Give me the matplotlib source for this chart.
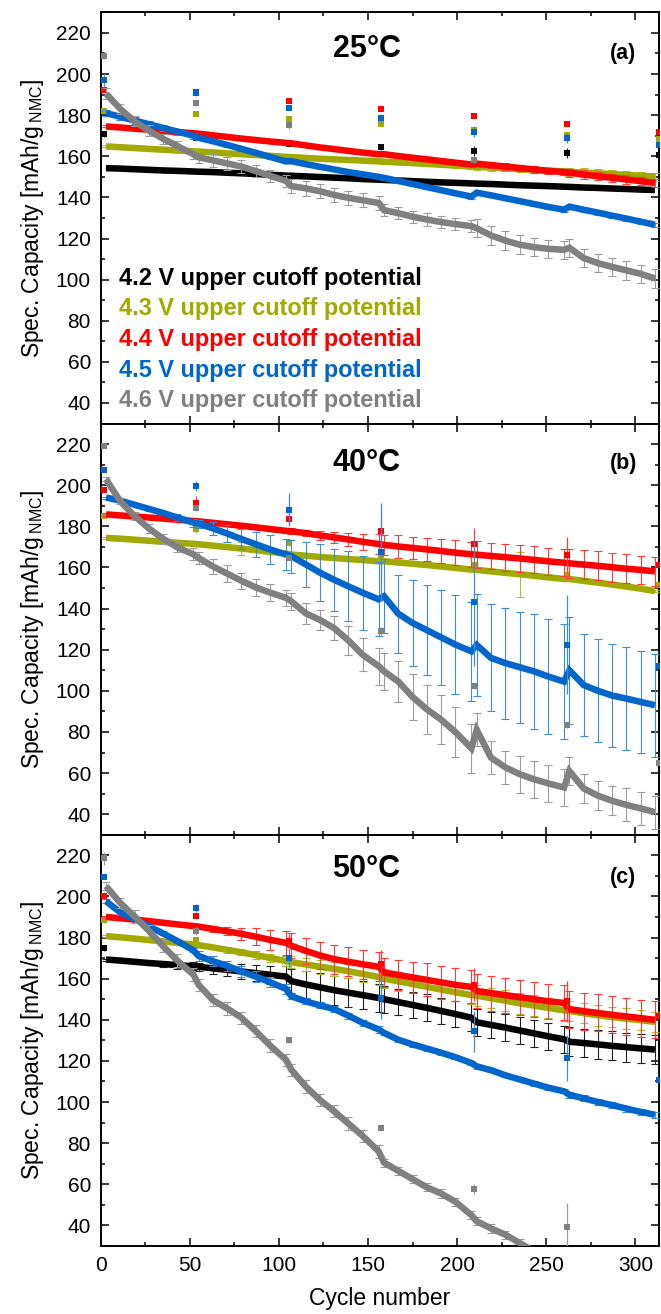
import numpy as np
import matplotlib
matplotlib.use('Agg')
import matplotlib.pyplot as plt
from matplotlib.ticker import MultipleLocator

nan = np.nan

# cycle numbers of the read-off points of the long-term cycling curves
CYCLES = [3, 11, 19, 27, 35, 43, 52,
          55, 63, 71, 79, 87, 95, 104,
          107, 115, 123, 131, 139, 147, 156,
          159, 167, 175, 183, 191, 199, 208,
          211, 219, 227, 235, 243, 251, 260,
          263, 271, 279, 287, 295, 303, 311]
# formation + C/10 check-up cycles
CHECK_CYCLES = [2, 53.5, 105.5, 157.5, 209.5, 261.5, 313]

LABELS = ['4.2 V upper cutoff potential', '4.3 V upper cutoff potential',
          '4.4 V upper cutoff potential', '4.5 V upper cutoff potential',
          '4.6 V upper cutoff potential']
COLORS = ['#000000', '#a0aa00', '#ff0000', '#0066cc', '#808080']
ERR_COLORS = ['#222222', '#b2bb2a', '#ff3a3a', '#3d8cd8', '#9c9c9c']

# ---- 25 degC ----
CAP25_42 = [154.2, 154.0, 153.7, 153.4, 153.1, 152.9, 152.6,
            152.5, 152.3, 152.0, 151.7, 151.4, 151.0, 150.6,
            150.5, 150.2, 149.9, 149.6, 149.3, 148.9, 148.6,
            148.5, 148.2, 147.9, 147.6, 147.3, 147.1, 146.8,
            146.7, 146.5, 146.2, 145.9, 145.7, 145.5, 145.2,
            145.1, 144.8, 144.6, 144.3, 144.1, 143.8, 143.6]
CAP25_43 = [164.8, 164.4, 164.0, 163.6, 163.2, 162.8, 162.4,
            162.3, 161.9, 161.4, 161.0, 160.6, 160.2, 159.7,
            159.6, 159.2, 158.8, 158.5, 158.2, 157.9, 157.5,
            157.4, 157.0, 156.7, 156.3, 155.9, 155.5, 155.0,
            154.9, 154.5, 154.1, 153.8, 153.4, 153.0, 152.6,
            152.5, 152.1, 151.7, 151.3, 150.9, 150.5, 150.1]
ERR25_43 = [0.5, 0.5, 0.5, 0.5, 0.5, 0.5, 0.5,
            0.5, 0.5, 0.5, 0.5, 0.5, 0.5, 0.5,
            0.5, 0.5, 0.5, 0.5, 0.5, 0.5, 0.5,
            1.0, 1.0, 1.0, 1.0, 1.0, 1.0, 1.0,
            1.5, 1.5, 1.5, 1.5, 1.5, 1.5, 1.5,
            2.0, 2.0, 2.0, 2.0, 2.0, 2.0, 2.0]
CAP25_44 = [174.5, 174.0, 173.4, 172.9, 172.3, 171.8, 171.2,
            171.0, 170.2, 169.4, 168.6, 167.9, 167.2, 166.5,
            166.3, 165.3, 164.3, 163.5, 162.6, 161.8, 161.0,
            161.0, 160.1, 159.3, 158.5, 157.7, 156.9, 156.0,
            156.4, 155.7, 155.0, 154.3, 153.6, 152.9, 152.3,
            152.0, 151.1, 150.3, 149.5, 148.7, 147.9, 147.0]
ERR25_44 = [0.5, 0.5, 0.5, 0.5, 0.5, 0.5, 0.5,
            0.5, 0.5, 0.5, 0.5, 0.5, 0.5, 0.5,
            0.5, 0.5, 0.5, 0.5, 0.5, 0.5, 0.5,
            0.8, 0.8, 0.8, 0.8, 0.8, 0.8, 0.8,
            1.5, 1.5, 1.5, 1.5, 1.5, 1.5, 1.5,
            2.0, 2.0, 2.0, 2.0, 2.0, 2.0, 2.0]
CAP25_45 = [181.0, 179.2, 177.4, 175.6, 173.8, 172.0, 170.0,
            169.0, 167.3, 165.5, 163.6, 161.7, 159.7, 157.5,
            157.6, 156.2, 154.9, 153.6, 152.3, 151.2, 150.0,
            149.5, 148.0, 146.5, 145.0, 143.5, 142.0, 140.4,
            142.3, 141.0, 139.6, 138.2, 136.8, 135.4, 134.0,
            135.5, 134.0, 132.6, 131.1, 129.7, 128.2, 126.7]
ERR25_45 = [1.5, 1.5, 1.5, 1.5, 1.5, 1.5, 1.5,
            1.0, 1.0, 1.0, 1.0, 1.0, 1.0, 1.0,
            1.0, 1.0, 1.0, 1.0, 1.0, 1.0, 1.0,
            1.0, 1.0, 1.0, 1.0, 1.0, 1.0, 1.0,
            1.0, 1.0, 1.0, 1.0, 1.0, 1.0, 1.0,
            1.0, 1.0, 1.0, 1.0, 1.0, 1.0, 1.0]
CAP25_46 = [190.5, 183.0, 177.0, 172.5, 168.5, 165.0, 161.0,
            159.5, 158.0, 156.5, 155.0, 152.8, 150.5, 148.0,
            145.5, 144.4, 143.0, 141.2, 139.8, 138.6, 137.3,
            133.8, 132.3, 130.6, 129.2, 128.0, 127.0, 126.0,
            125.0, 121.5, 119.0, 117.0, 115.8, 115.0, 114.5,
            115.5, 110.5, 108.0, 106.2, 104.5, 102.8, 100.6]
ERR25_46 = [2.5, 2.5, 2.5, 2.5, 2.5, 2.5, 2.5,
            3.0, 3.0, 3.0, 3.0, 3.0, 3.0, 3.0,
            3.5, 3.5, 3.5, 3.5, 3.5, 3.5, 3.5,
            3.0, 3.0, 3.0, 3.0, 3.0, 3.0, 3.0,
            4.5, 4.5, 4.5, 4.5, 4.5, 4.5, 4.5,
            4.5, 4.5, 4.5, 4.5, 4.5, 4.5, 4.5]
CHK25_42 = [170.8, 169.1, 166.0, 164.5, 162.7, 161.5, 160.5]
CHK25_43 = [182.1, 180.7, 178.3, 175.8, 172.9, 170.5, 168.4]
CHK25_44 = [192.4, 191.5, 186.8, 183.0, 179.4, 175.6, 172.0]
CHK25_45 = [197.0, 191.0, 183.4, 178.5, 172.0, 168.8, 165.5]
CHK25_46 = [209.0, 185.9, 175.0, nan, 158.0, nan, nan]
ECHK25_42 = [1.5, 1.0, 1.0, 1.5, 2.5, 2.5, 4.5]
ECHK25_43 = [1.0, 1.0, 1.0, 1.5, 1.5, 1.5, 2.0]
ECHK25_44 = [0.8, 0.8, 0.8, 0.8, 0.8, 0.8, 1.0]
ECHK25_45 = [3.5, 1.5, 1.0, 2.0, 2.5, 2.5, 3.0]
ECHK25_46 = [1.5, 1.5, 1.5, 0.0, 1.5, 0.0, 0.0]

# ---- 40 degC (no 4.2 V cell) ----
CAP40_43 = [174.4, 174.0, 173.5, 173.0, 172.5, 172.0, 171.5,
            171.3, 170.6, 169.9, 169.2, 168.4, 167.6, 166.8,
            166.3, 165.7, 165.1, 164.6, 164.1, 163.6, 163.0,
            163.0, 162.4, 161.8, 161.2, 160.5, 159.8, 159.0,
            158.8, 158.1, 157.4, 156.7, 156.0, 155.2, 154.4,
            154.4, 153.5, 152.6, 151.7, 150.7, 149.7, 148.5]
ERR40_43 = [0.5, 0.5, 0.5, 0.5, 0.5, 0.5, 0.5,
            0.5, 0.5, 0.5, 3.0, 0.5, 0.5, 0.5,
            0.5, 0.5, 0.5, 0.5, 0.5, 0.5, 0.5,
            0.5, 0.5, 0.5, 0.5, 0.5, 0.5, 0.5,
            0.5, 0.5, 0.5, 11.0, 0.5, 0.5, 0.5,
            0.5, 0.5, 0.5, 0.5, 0.5, 0.5, 0.5]
CAP40_44 = [185.8, 185.3, 184.8, 184.3, 183.8, 183.2, 182.6,
            182.4, 181.7, 181.0, 180.3, 179.5, 178.7, 177.8,
            177.6, 176.7, 175.6, 174.6, 173.6, 172.5, 171.4,
            171.0, 170.2, 169.5, 168.8, 168.0, 167.2, 166.4,
            166.2, 165.6, 165.0, 164.4, 163.7, 163.0, 162.3,
            162.0, 161.4, 160.8, 160.1, 159.4, 158.8, 158.1]
ERR40_44 = [0.8, 0.8, 0.8, 0.8, 0.8, 0.8, 0.8,
            1.0, 1.0, 1.0, 1.0, 1.0, 1.0, 1.0,
            1.5, 1.5, 2.0, 2.5, 3.0, 4.0, 5.0,
            5.0, 5.5, 5.5, 5.5, 6.0, 6.0, 6.0,
            6.5, 6.5, 6.5, 6.5, 6.5, 6.5, 6.5,
            7.0, 7.0, 7.0, 7.0, 7.0, 7.0, 7.0]
CAP40_45 = [194.0, 192.5, 190.5, 188.5, 186.5, 184.3, 181.8,
            181.3, 179.0, 176.5, 173.8, 171.3, 168.8, 166.3,
            165.5, 161.5, 157.5, 154.0, 150.8, 147.7, 144.5,
            146.0, 137.5, 133.0, 129.5, 126.0, 122.5, 119.2,
            122.3, 116.0, 113.5, 111.5, 109.5, 107.0, 104.5,
            110.0, 102.8, 100.0, 97.7, 96.2, 94.6, 93.0]
ERR40_45 = [0.5, 0.5, 0.8, 1.0, 1.2, 1.5, 2.0,
            2.0, 3.0, 4.0, 5.0, 6.0, 7.0, 7.5,
            8.0, 11.0, 14.0, 15.0, 17.0, 18.0, 18.0,
            18.0, 19.0, 21.0, 22.0, 23.0, 24.0, 24.0,
            25.0, 26.0, 27.0, 27.0, 28.0, 28.0, 28.0,
            26.0, 25.0, 25.0, 25.0, 25.0, 25.0, 25.0]
CAP40_46 = [202.9, 192.2, 185.0, 179.0, 174.0, 169.8, 166.4,
            164.6, 160.5, 157.0, 153.5, 150.3, 147.8, 145.2,
            143.5, 137.7, 134.5, 130.5, 124.5, 117.5, 112.0,
            109.5, 104.5, 97.0, 91.0, 86.0, 80.0, 72.0,
            81.0, 67.5, 62.8, 59.5, 57.0, 55.0, 53.0,
            61.0, 52.5, 49.0, 46.5, 44.5, 42.8, 41.0]
ERR40_46 = [1.0, 1.5, 2.0, 2.0, 2.5, 2.5, 3.0,
            3.0, 3.5, 4.0, 4.0, 4.0, 4.0, 4.0,
            4.0, 5.0, 5.0, 6.0, 7.0, 8.0, 9.0,
            9.0, 10.0, 11.0, 12.0, 12.0, 12.0, 12.0,
            8.0, 8.0, 8.0, 9.0, 9.0, 9.0, 9.0,
            7.0, 7.0, 7.0, 7.0, 8.0, 8.0, 8.0]
CHK40_43 = [185.0, 178.5, 172.0, 166.0, 161.4, 156.5, 151.5]
CHK40_44 = [197.5, 191.5, 183.5, 177.6, 171.5, 166.2, 161.0]
CHK40_45 = [207.5, 199.5, 188.0, 167.5, 143.0, 122.5, 112.0]
CHK40_46 = [219.0, 189.0, 164.6, 129.0, 102.5, 83.5, 65.0]
ECHK40_43 = [1.0, 1.5, 1.5, 7.0, 1.0, 1.0, 1.0]
ECHK40_44 = [1.0, 3.5, 3.0, 6.5, 7.5, 8.5, 5.0]
ECHK40_45 = [1.0, 2.5, 8.0, 24.0, 31.0, 24.0, 14.0]
ECHK40_46 = [1.0, 1.5, 1.0, 2.0, 1.5, 1.5, 1.0]

# ---- 50 degC ----
CAP50_42 = [169.3, 168.8, 168.2, 167.6, 167.1, 166.6, 166.0,
            165.8, 165.0, 164.3, 163.5, 162.7, 161.9, 161.0,
            158.8, 157.2, 155.8, 154.4, 153.2, 152.0, 150.6,
            150.0, 148.6, 147.2, 145.8, 144.3, 142.8, 141.0,
            138.8, 137.5, 136.2, 134.8, 133.4, 132.0, 130.5,
            129.3, 128.7, 128.0, 127.3, 126.7, 126.1, 125.5]
ERR50_42 = [0.5, 0.5, 0.5, 0.8, 1.5, 2.0, 2.0,
            2.0, 2.5, 3.0, 3.5, 4.0, 4.5, 5.0,
            6.0, 6.5, 7.0, 7.0, 7.0, 7.0, 7.0,
            6.5, 6.5, 6.5, 6.5, 6.5, 6.5, 6.5,
            6.5, 6.5, 6.5, 6.5, 6.5, 6.5, 6.5,
            7.0, 7.0, 7.0, 7.0, 7.0, 7.0, 7.0]
CAP50_43 = [180.7, 180.1, 179.5, 178.8, 178.1, 177.4, 176.6,
            176.3, 175.2, 174.0, 172.8, 171.5, 170.1, 168.6,
            168.0, 166.9, 165.8, 164.8, 163.6, 162.3, 160.8,
            160.0, 158.7, 157.4, 156.0, 154.7, 153.4, 152.0,
            151.7, 150.5, 149.3, 148.0, 146.9, 145.8, 144.6,
            144.3, 143.2, 142.2, 141.3, 140.5, 139.8, 139.0]
ERR50_43 = [0.5, 0.5, 0.5, 0.5, 0.5, 0.5, 0.5,
            1.0, 1.0, 1.5, 1.5, 2.0, 2.0, 2.5,
            3.0, 3.0, 3.5, 3.5, 3.5, 4.0, 4.0,
            4.5, 4.5, 4.5, 4.5, 4.5, 4.5, 4.5,
            5.0, 5.0, 5.0, 5.0, 5.0, 5.0, 5.0,
            5.0, 5.0, 5.0, 5.0, 5.0, 5.0, 5.0]
CAP50_44 = [190.0, 189.4, 188.7, 188.0, 187.2, 186.4, 185.6,
            185.3, 184.2, 183.0, 181.8, 180.4, 178.9, 177.4,
            176.0, 173.5, 171.3, 169.5, 168.2, 167.0, 165.8,
            163.0, 161.8, 160.6, 159.4, 158.2, 157.0, 156.0,
            154.0, 153.0, 152.0, 151.0, 150.0, 149.0, 148.2,
            145.2, 144.2, 143.3, 142.4, 141.6, 140.8, 140.0]
ERR50_44 = [0.5, 0.5, 0.5, 0.5, 0.5, 0.5, 0.5,
            1.0, 1.5, 2.0, 3.0, 4.0, 5.0, 6.0,
            6.0, 6.5, 6.5, 7.0, 7.0, 7.0, 7.0,
            7.0, 7.5, 7.5, 8.0, 8.0, 8.0, 8.0,
            8.5, 8.5, 8.5, 8.5, 8.5, 8.5, 8.5,
            9.0, 9.0, 9.0, 9.0, 9.0, 9.0, 9.0]
CAP50_45 = [197.7, 192.2, 189.0, 185.5, 182.0, 178.3, 173.8,
            171.0, 168.5, 166.2, 163.5, 161.0, 158.3, 155.0,
            151.4, 149.0, 147.0, 145.2, 142.0, 138.5, 135.3,
            133.6, 130.3, 128.0, 126.0, 124.0, 121.8, 119.0,
            117.3, 115.5, 113.0, 111.0, 109.0, 107.0, 105.2,
            103.5, 101.8, 100.0, 98.5, 96.8, 95.2, 93.8]
ERR50_45 = [1.0, 1.0, 1.0, 1.0, 1.0, 1.0, 1.0,
            2.5, 2.5, 2.5, 2.5, 2.5, 2.5, 2.5,
            1.5, 1.5, 1.5, 1.5, 1.5, 1.5, 1.5,
            1.0, 1.0, 1.0, 1.0, 1.0, 1.0, 1.0,
            1.0, 1.0, 1.0, 1.0, 1.0, 1.0, 1.0,
            1.5, 1.5, 1.5, 1.5, 1.5, 1.5, 1.5]
CAP50_46 = [205.0, 196.8, 190.3, 183.3, 175.8, 168.8, 162.0,
            157.0, 149.5, 145.5, 141.0, 134.5, 127.5, 120.5,
            115.7, 107.6, 101.0, 95.5, 89.5, 83.5, 76.0,
            70.5, 66.5, 62.5, 58.5, 55.5, 51.5, 45.0,
            42.0, 38.5, 35.5, 31.5, 27.5, nan, nan,
            nan, nan, nan, nan, nan, nan, nan]
ERR50_46 = [2.0, 2.5, 3.0, 3.0, 3.0, 3.0, 3.0,
            3.0, 3.0, 3.0, 3.0, 3.0, 3.0, 3.0,
            3.0, 3.0, 3.0, 3.0, 3.0, 3.0, 3.0,
            2.0, 2.0, 2.0, 2.0, 2.0, 2.0, 2.0,
            2.0, 2.0, 2.0, 2.0, 2.0, nan, nan,
            nan, nan, nan, nan, nan, nan, nan]
CHK50_42 = [175.0, nan, nan, nan, nan, nan, nan]
CHK50_43 = [188.5, 179.0, nan, nan, nan, nan, nan]
CHK50_44 = [200.2, 190.4, 178.5, 166.9, 157.0, 148.9, 141.7]
CHK50_45 = [209.6, 194.5, 170.0, 150.6, 134.4, 121.4, 110.8]
CHK50_46 = [218.5, 183.0, 130.3, 87.3, 57.6, 39.4, nan]
ECHK50_42 = [1.5, 0, 0, 0, 0, 0, 0]
ECHK50_43 = [1.5, 1.5, 0, 0, 0, 0, 0]
ECHK50_44 = [0.5, 1.0, 3.0, 7.0, 8.0, 10.0, 10.0]
ECHK50_45 = [1.0, 2.0, 5.0, 10.0, 10.0, 11.0, 15.0]
ECHK50_46 = [3.0, 2.0, 1.5, 1.5, 2.5, 11.5, 0.0]

panels = [
    ('25°C', '(a)', [(CAP25_42, None, CHK25_42, ECHK25_42),
                     (CAP25_43, ERR25_43, CHK25_43, ECHK25_43),
                     (CAP25_44, ERR25_44, CHK25_44, ECHK25_44),
                     (CAP25_45, ERR25_45, CHK25_45, ECHK25_45),
                     (CAP25_46, ERR25_46, CHK25_46, ECHK25_46)]),
    ('40°C', '(b)', [None,
                     (CAP40_43, ERR40_43, CHK40_43, ECHK40_43),
                     (CAP40_44, ERR40_44, CHK40_44, ECHK40_44),
                     (CAP40_45, ERR40_45, CHK40_45, ECHK40_45),
                     (CAP40_46, ERR40_46, CHK40_46, ECHK40_46)]),
    ('50°C', '(c)', [(CAP50_42, ERR50_42, CHK50_42, ECHK50_42),
                     (CAP50_43, ERR50_43, CHK50_43, ECHK50_43),
                     (CAP50_44, ERR50_44, CHK50_44, ECHK50_44),
                     (CAP50_45, ERR50_45, CHK50_45, ECHK50_45),
                     (CAP50_46, ERR50_46, CHK50_46, ECHK50_46)]),
]

plt.rcParams['font.family'] = ['Liberation Sans', 'DejaVu Sans']
plt.rcParams['mathtext.fontset'] = 'custom'
plt.rcParams['mathtext.rm'] = 'Liberation Sans'
plt.rcParams['axes.linewidth'] = 1.4

fig = plt.figure(figsize=(6.61, 13.14), dpi=100)
gs = fig.add_gridspec(3, 1, left=0.1523, right=0.9976, top=0.9906,
                      bottom=0.0518, hspace=0)
axes = []
for i in range(3):
    ax = fig.add_subplot(gs[i], sharex=axes[0] if axes else None)
    axes.append(ax)

title_y = [0.912, 0.903, 0.917]
tag_y = [0.900, 0.903, 0.895]

for k, (ax, (temp, tag, series)) in enumerate(zip(axes, panels)):
    for i, s in enumerate(series):
        if s is None:
            continue
        cap, err, chk, echk = s
        z = 2 + i
        if err is not None:
            ax.errorbar(CYCLES, cap, yerr=err, fmt='none', ecolor=ERR_COLORS[i],
                        elinewidth=0.8, capsize=2.6, capthick=0.8, zorder=z)
        ax.plot(CYCLES, cap, color=COLORS[i], lw=4.7, solid_capstyle='butt',
                solid_joinstyle='miter', zorder=z + 0.1)
        ax.errorbar(CHECK_CYCLES, chk, yerr=echk, fmt='s', ms=4.8, mew=0,
                    color=COLORS[i], ecolor=ERR_COLORS[i], elinewidth=0.9,
                    capsize=2.6, capthick=0.9, zorder=z + 0.2)

    ax.set_xlim(0, 313.5)
    ax.set_ylim(30, 230)
    ax.xaxis.set_major_locator(MultipleLocator(50))
    ax.xaxis.set_minor_locator(MultipleLocator(25))
    ax.yaxis.set_major_locator(MultipleLocator(20))
    ax.yaxis.set_minor_locator(MultipleLocator(10))
    ax.set_yticks(np.arange(40, 221, 20))
    ax.tick_params(which='both', direction='in', top=True, right=True,
                   width=1.1, labelsize=15, pad=7)
    ax.tick_params(which='major', length=5.8)
    ax.tick_params(which='minor', length=3.1)
    if k < 2:
        ax.tick_params(labelbottom=False)
    ax.set_ylabel('Spec. Capacity [mAh/g$_{\\mathregular{\\,NMC}}$]',
                  fontsize=16.5, labelpad=7)
    ax.text(0.476, title_y[k], temp, transform=ax.transAxes, fontsize=22,
            fontweight='bold', ha='center', va='center')
    ax.text(0.935, tag_y[k], tag, transform=ax.transAxes, fontsize=15.5,
            fontweight='bold', ha='center', va='center')

axes[2].set_xlabel('Cycle number', fontsize=16.5, labelpad=9)

leg_y = [0.353, 0.280, 0.204, 0.129, 0.056]
for i, lab in enumerate(LABELS):
    axes[0].text(0.032, leg_y[i], lab, transform=axes[0].transAxes,
                 color=COLORS[i], fontsize=16.9, fontweight='bold',
                 ha='left', va='center', zorder=10)

fig.savefig('out.png', dpi=100)
